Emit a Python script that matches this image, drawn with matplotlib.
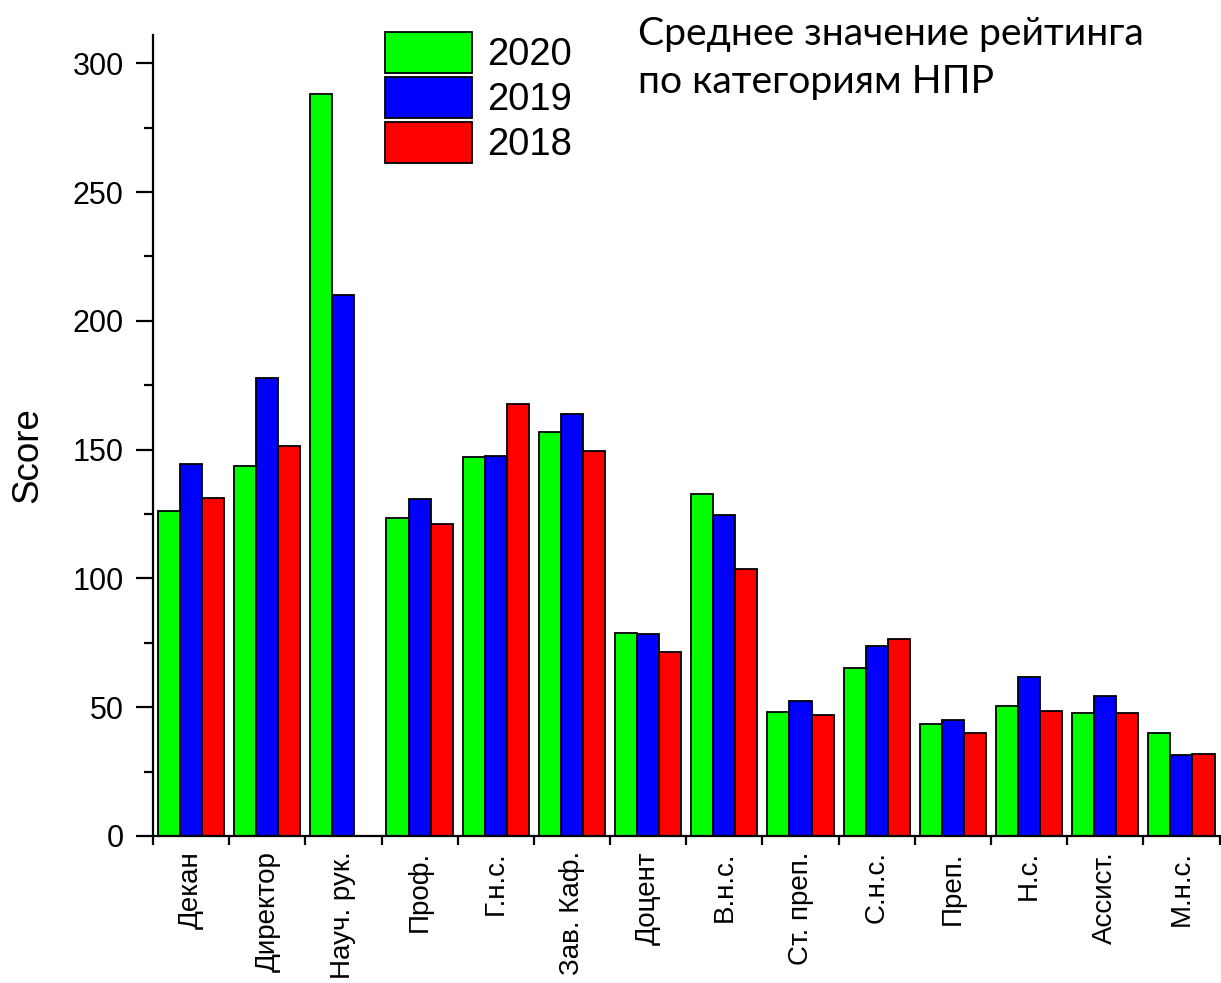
import matplotlib.pyplot as plt
import numpy as np

plt.rcParams['font.family'] = ['Liberation Sans', 'DejaVu Sans']

categories = ['Декан', 'Директор', 'Науч. рук.', 'Проф.', 'Г.н.с.', 'Зав. Каф.',
              'Доцент', 'В.н.с.', 'Ст. преп.', 'С.н.с.', 'Преп.', 'Н.с.',
              'Ассист.', 'М.н.с.']
score_2020 = [126.3, 143.8, 288.0, 123.6, 147.3, 157.0, 78.9, 132.7, 48.0, 65.2, 43.5, 50.4, 47.8, 40.0]
score_2019 = [144.6, 178.0, 209.9, 131.0, 147.7, 164.0, 78.5, 124.8, 52.3, 73.6, 45.2, 61.8, 54.4, 31.6]
score_2018 = [131.4, 151.6, np.nan, 121.3, 167.9, 149.6, 71.5, 103.8, 46.8, 76.4, 40.0, 48.5, 47.7, 31.9]
years = ['2020', '2019', '2018']
colors = ['#00ff00', '#0000ff', '#ff0000']

fig = plt.figure(figsize=(12.21, 9.83), dpi=100)
ax = fig.add_axes([0.1253, 0.1496, 0.8735, 0.8148])

x = np.arange(len(categories)) + 0.5
w = 0.29
series = [score_2020, score_2019, score_2018]
for i, (vals, c, lab) in enumerate(zip(series, colors, years)):
    ax.bar(x + (i - 1) * w, vals, width=w, color=c, edgecolor='black',
           linewidth=1.3, label=lab)

ax.set_xlim(0, len(categories))
ax.set_ylim(0, 311)
ax.spines['top'].set_visible(False)
ax.spines['right'].set_visible(False)
ax.spines['left'].set_linewidth(1.6)
ax.spines['bottom'].set_linewidth(1.6)

ax.set_yticks([0, 50, 100, 150, 200, 250, 300])
ax.set_yticks([25, 75, 125, 175, 225, 275], minor=True)
ax.tick_params(axis='y', which='major', length=12, width=1.6, pad=9, labelsize=22)
ax.tick_params(axis='y', which='minor', length=6.5, width=1.6)

ax.set_xticks(np.arange(len(categories) + 1))
ax.set_xticklabels([])
ax.set_xticks(x, minor=True)
ax.set_xticklabels(categories, minor=True, rotation=90, fontsize=20, va='top')
ax.tick_params(axis='x', which='major', length=6.5, width=1.6)
ax.tick_params(axis='x', which='minor', length=0, pad=11)

ax.set_ylabel('Score', fontsize=26.5)
ax.yaxis.set_label_coords(-0.101, 0.476)

fig.legend(loc='upper left', bbox_to_anchor=(385 / 1221, 1 - 32 / 983),
           frameon=False, fontsize=27.5, handlelength=2.28, handleheight=1.26,
           labelspacing=0.1, handletextpad=0.4, borderpad=0, borderaxespad=0)

fig.text(638 / 1221, 1 - 16 / 983, 'Среднее значение рейтинга\nпо категориям НПР',
         fontsize=28.2, family=['Lato', 'DejaVu Sans'], va='top', ha='left',
         linespacing=1.4)

fig.savefig('out.png', dpi=100)
